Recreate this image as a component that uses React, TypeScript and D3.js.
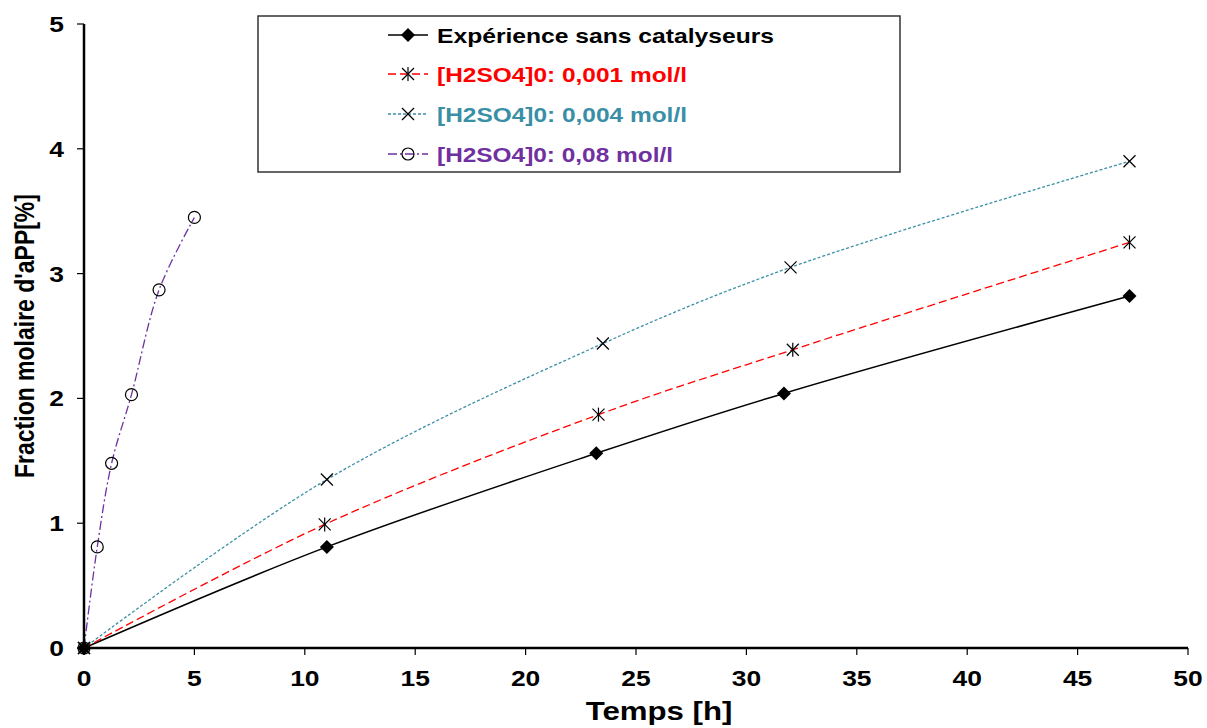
import React from 'react';
import * as d3 from 'd3';

// time [h] and molar fraction [%] per series
const noCatX = [0, 11.0, 23.2, 31.7, 47.35];
const noCatY = [0, 0.81, 1.56, 2.04, 2.82];
const h001X = [0, 10.9, 23.3, 32.1, 47.35];
const h001Y = [0, 0.99, 1.87, 2.39, 3.25];
const h004X = [0, 11.0, 23.5, 32.0, 47.35];
const h004Y = [0, 1.35, 2.44, 3.05, 3.9];
const h08X = [0, 0.6, 1.25, 2.15, 3.4, 5.0];
const h08Y = [0, 0.81, 1.48, 2.03, 2.87, 3.45];

const xTicks = [0, 5, 10, 15, 20, 25, 30, 35, 40, 45, 50];
const yTicks = [0, 1, 2, 3, 4, 5];

const series = [
  { name: 'Expérience sans catalyseurs', xs: noCatX, ys: noCatY, color: '#000000', dash: '', marker: 'diamond', textColor: '#000000', len: 337 },
  { name: '[H2SO4]0: 0,001 mol/l', xs: h001X, ys: h001Y, color: '#FF0000', dash: '8,4', marker: 'star', textColor: '#FF0000', len: 250 },
  { name: '[H2SO4]0: 0,004 mol/l', xs: h004X, ys: h004Y, color: '#3A8FA6', dash: '3,2', marker: 'cross', textColor: '#3A8FA6', len: 250 },
  { name: '[H2SO4]0: 0,08 mol/l', xs: h08X, ys: h08Y, color: '#7030A0', dash: '9,3,2,3', marker: 'circle', textColor: '#7030A0', len: 236 },
];

const font = 'Arial, "Liberation Sans", sans-serif';
const stretch = 1.2; // the original glyphs look widened

function Txt({ x, y, size, anchor, fill, children }: any) {
  return (
    <text
      transform={`translate(${x},${y}) scale(${stretch},1)`}
      fontSize={size}
      fontWeight="bold"
      textAnchor={anchor}
      fill={fill || '#000'}
    >
      {children}
    </text>
  );
}

function Marker({ kind, x, y }: { kind: string; x: number; y: number }) {
  const s = 6;
  if (kind === 'diamond') {
    return (
      <path
        d={`M${x},${y - s - 1}L${x + s + 1},${y}L${x},${y + s + 1}L${x - s - 1},${y}Z`}
        fill="#000"
      />
    );
  }
  if (kind === 'star') {
    return (
      <g stroke="#000" strokeWidth={1.2}>
        <line x1={x - s} y1={y - s} x2={x + s} y2={y + s} />
        <line x1={x - s} y1={y + s} x2={x + s} y2={y - s} />
        <line x1={x} y1={y - s - 1} x2={x} y2={y + s + 1} />
      </g>
    );
  }
  if (kind === 'cross') {
    return (
      <g stroke="#000" strokeWidth={1.2}>
        <line x1={x - s} y1={y - s} x2={x + s} y2={y + s} />
        <line x1={x - s} y1={y + s} x2={x + s} y2={y - s} />
      </g>
    );
  }
  return <circle cx={x} cy={y} r={6} fill="none" stroke="#000" strokeWidth={1.2} />;
}

export default function App() {
  const width = 1207;
  const height = 728;
  const x = d3.scaleLinear().domain([0, 50]).range([84, 1188]);
  const y = d3.scaleLinear().domain([0, 5]).range([648, 24]);

  const line = d3
    .line<[number, number]>()
    .curve(d3.curveCatmullRom)
    .x((d) => x(d[0]))
    .y((d) => y(d[1]));

  const legend = { x: 258, y: 16, w: 642, h: 156 };
  const rowY = [35, 74, 114, 154];

  return (
    <svg
      width={width}
      height={height}
      style={{ position: 'absolute', left: 0, top: 0, background: '#fff' }}
      fontFamily={font}
    >
      <rect width={width} height={height} fill="#fff" />

      {/* series lines */}
      {series.map((s) => (
        <path
          key={s.name}
          d={line(s.xs.map((v, i) => [v, s.ys[i]] as [number, number])) || ''}
          fill="none"
          stroke={s.color}
          strokeWidth={s.dash ? 1.3 : 1.5}
          strokeDasharray={s.dash || undefined}
        />
      ))}

      {/* axes */}
      <line x1={x(0)} x2={x(50)} y1={y(0)} y2={y(0)} stroke="#000" strokeWidth={2.5} />
      <line x1={x(0)} x2={x(0)} y1={y(0)} y2={y(5)} stroke="#000" strokeWidth={2.5} />
      {xTicks.map((t) => (
        <g key={'x' + t}>
          <line x1={x(t)} x2={x(t)} y1={y(0)} y2={y(0) + 7} stroke="#000" strokeWidth={1.2} />
          <Txt x={x(t)} y={y(0) + 38} size={22} anchor="middle">
            {t}
          </Txt>
        </g>
      ))}
      {yTicks.map((t) => (
        <g key={'y' + t}>
          <line x1={x(0) - 7} x2={x(0)} y1={y(t)} y2={y(t)} stroke="#000" strokeWidth={1.2} />
          <Txt x={x(0) - 20} y={y(t) + 8} size={22} anchor="end">
            {t}
          </Txt>
        </g>
      ))}

      {/* markers */}
      {series.map((s) =>
        s.xs.map((v, i) => <Marker key={s.name + i} kind={s.marker} x={x(v)} y={y(s.ys[i])} />)
      )}

      {/* axis titles */}
      <Txt x={659} y={720} size={26} anchor="middle">
        Temps [h]
      </Txt>
      <text
        transform={`translate(34,${(y(0) + y(5)) / 2}) scale(${stretch},1) rotate(-90)`}
        textAnchor="middle"
        fontSize={23}
        fontWeight="bold"
      >
        Fraction molaire d'aPP[%]
      </text>

      {/* legend */}
      <rect
        x={legend.x}
        y={legend.y}
        width={legend.w}
        height={legend.h}
        fill="#fff"
        stroke="#333"
        strokeWidth={1.5}
      />
      {series.map((s, i) => (
        <g key={'lg' + i}>
          <line
            x1={388}
            x2={428}
            y1={rowY[i]}
            y2={rowY[i]}
            stroke={s.color}
            strokeWidth={1.3}
            strokeDasharray={s.dash || undefined}
          />
          <Marker kind={s.marker} x={408} y={rowY[i]} />
          <text
            x={437}
            y={rowY[i] + 8}
            fontSize={21}
            fontWeight="bold"
            fill={s.textColor}
            textLength={s.len}
            lengthAdjust="spacingAndGlyphs"
          >
            {s.name}
          </text>
        </g>
      ))}
    </svg>
  );
}
